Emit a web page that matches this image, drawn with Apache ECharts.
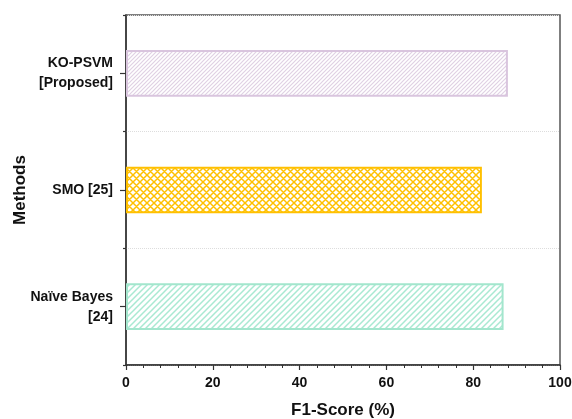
<!DOCTYPE html>
<html>
<head>
<meta charset="utf-8">
<script src="https://cdn.jsdelivr.net/npm/echarts@6/dist/echarts.min.js"></script>
<style>
  html, body { margin: 0; padding: 0; background: #fff; }
  #chart { width: 572px; height: 419px; }
</style>
</head>
<body>
<div id="chart"></div>
<script>
const methods = ["Naïve Bayes\n[24]", "SMO [25]", "KO-PSVM\n[Proposed]"];
const f1Scores = [87, 82, 88];
const xTicks = [0, 20, 40, 60, 80, 100];

// 填充花纹
function hatch(size, color, width, cross) {
  const c = document.createElement("canvas");
  c.width = size;
  c.height = size;
  const g = c.getContext("2d");
  g.fillStyle = "#fff";
  g.fillRect(0, 0, size, size);
  g.strokeStyle = color;
  g.lineWidth = width;
  g.beginPath();
  g.moveTo(0, size); g.lineTo(size, 0);
  g.moveTo(-2, 2); g.lineTo(2, -2);
  g.moveTo(size - 2, size + 2); g.lineTo(size + 2, size - 2);
  if (cross) {
    g.moveTo(0, 0); g.lineTo(size, size);
    g.moveTo(-2, size - 2); g.lineTo(2, size + 2);
    g.moveTo(size - 2, -2); g.lineTo(size + 2, 2);
  }
  g.stroke();
  return c;
}

const fills = [
  { pattern: hatch(6, "#a9e9d2", 1.5, false), border: "#a3e6cd" },
  { pattern: hatch(7, "#ffc000", 1.5, true), border: "#ffc000" },
  { pattern: hatch(4, "#e0d1e4", 1.2, false), border: "#d9c5de" }
];

const chart = echarts.init(document.getElementById("chart"));
const font = { fontFamily: "Liberation Sans, Arial, sans-serif", fontWeight: "bold", color: "#111" };

chart.setOption({
  animation: false,
  grid: {
    left: 126, right: 12, top: 15, bottom: 54,
    outerBoundsMode: "none",
    containLabel: false,
    show: true, borderColor: "#555", borderWidth: 1.5
  },
  xAxis: {
    type: "value",
    min: xTicks[0],
    max: xTicks[xTicks.length - 1],
    interval: 20,
    name: "F1-Score (%)",
    nameLocation: "middle",
    nameGap: 37,
    nameMoveOverlap: false,
    nameTextStyle: { ...font, fontSize: 17 },
    axisLine: { show: true, lineStyle: { color: "#333", width: 1.5 } },
    axisTick: { show: true, length: 5, lineStyle: { color: "#333", width: 1.2 } },
    minorTick: { show: true, splitNumber: 5, length: 3, lineStyle: { color: "#333", width: 1 } },
    axisLabel: { ...font, fontSize: 14, margin: 11 },
    splitLine: { show: false }
  },
  yAxis: [
    {
      type: "category",
      data: methods,
      name: "Methods",
      nameLocation: "middle",
      nameGap: 97,
      nameMoveOverlap: false,
      nameTextStyle: { ...font, fontSize: 17 },
      axisLine: { show: true, lineStyle: { color: "#333", width: 1.5 } },
      axisTick: { show: true, alignWithLabel: true, length: 6, lineStyle: { color: "#333", width: 1.2 } },
      axisLabel: { ...font, fontSize: 14, margin: 13, lineHeight: 20, align: "right" },
      splitLine: { show: false }
    },
    {
      type: "category",
      data: methods,
      position: "left",
      axisLine: { show: false },
      axisTick: { show: true, length: 3, lineStyle: { color: "#333", width: 1.2 } },
      axisLabel: { show: false },
      splitLine: { show: true, lineStyle: { color: "#ddd", type: "dotted", width: 1 } }
    }
  ],
  series: [
    {
      type: "bar",
      yAxisIndex: 0,
      barWidth: "40%",
      data: f1Scores.map((v, i) => ({
        value: v,
        itemStyle: {
          color: { image: fills[i].pattern, repeat: "repeat" },
          borderColor: fills[i].border,
          borderWidth: 2
        }
      }))
    }
  ]
});
</script>
</body>
</html>
